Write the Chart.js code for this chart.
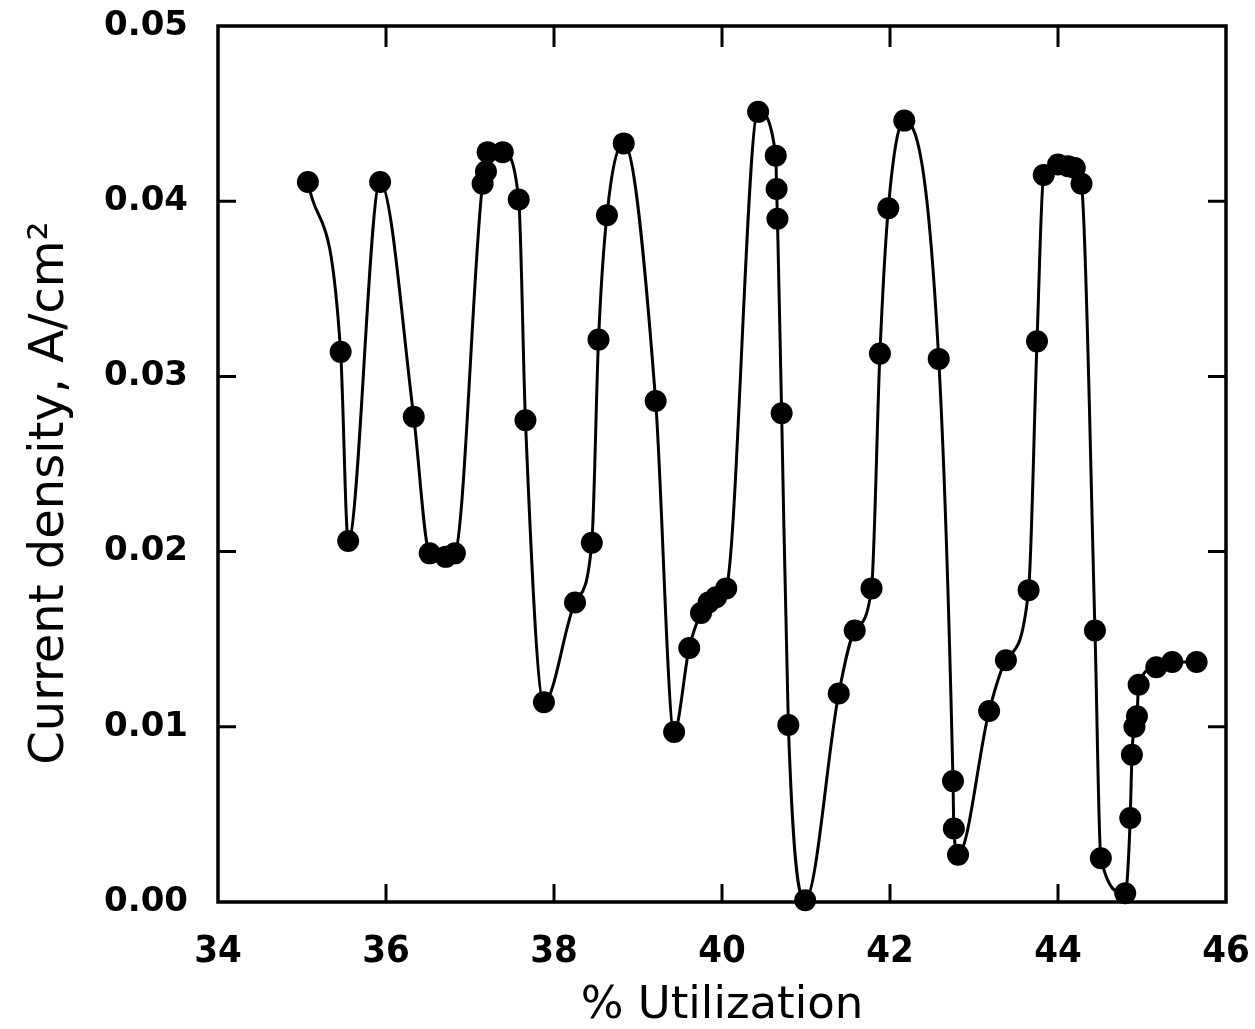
<!DOCTYPE html>
<html>
<head>
<meta charset="utf-8">
<script src="https://cdn.jsdelivr.net/npm/chart.js@4.4.1/dist/chart.umd.min.js"></script>
<style>
  html, body { margin: 0; padding: 0; background: #fff; }
  #wrap { width: 1255px; height: 1029px; }
</style>
</head>
<body>
<div id="wrap"><canvas id="chart"></canvas></div>
<script>
// % utilization vs. current density (A/cm^2)
const utilization = [
  35.07, 35.46, 35.55, 35.93, 36.33, 36.52, 36.71, 36.82,
  37.15, 37.19, 37.21, 37.39, 37.58, 37.66, 37.88, 38.25,
  38.45, 38.53, 38.63, 38.83, 39.21, 39.43, 39.61, 39.75,
  39.84, 39.93, 40.05, 40.43, 40.64, 40.65, 40.66, 40.71,
  40.79, 40.99, 41.39, 41.58, 41.78, 41.88, 41.98, 42.17,
  42.58, 42.75, 42.76, 42.81, 43.18, 43.38, 43.65, 43.75,
  43.83, 44.00, 44.12, 44.20, 44.28, 44.44, 44.51, 44.80,
  44.86, 44.88, 44.91, 44.94, 44.96, 45.17, 45.36, 45.65
];
const currentDensity = [
  0.0411, 0.0314, 0.0206, 0.0411, 0.0277, 0.0199, 0.0197, 0.0199,
  0.0410, 0.0417, 0.0428, 0.0428, 0.0401, 0.0275, 0.0114, 0.0171,
  0.0205, 0.0321, 0.0392, 0.0433, 0.0286, 0.0097, 0.0145, 0.0165,
  0.0171, 0.0174, 0.0179, 0.0451, 0.0426, 0.0407, 0.0390, 0.0279,
  0.0101, 0.0001, 0.0119, 0.0155, 0.0179, 0.0313, 0.0396, 0.0446,
  0.0310, 0.0069, 0.0042, 0.0027, 0.0109, 0.0138, 0.0178, 0.0320,
  0.0415, 0.0421, 0.0420, 0.0419, 0.0410, 0.0155, 0.0025, 0.0005,
  0.0048, 0.0084, 0.0100, 0.0106, 0.0124, 0.0134, 0.0137, 0.0137
];
const xTicks = [34, 36, 38, 40, 42, 44, 46];
const yTicks = [0, 0.01, 0.02, 0.03, 0.04, 0.05];
const yTitle = 'Current density, A/cm²';

const points = utilization.map((x, i) => ({ x: x, y: currentDensity[i] }));

// box around the plot with tick marks pointing inwards on every side,
// plus the y-axis label (sits a bit below the middle of the axis)
const framePlugin = {
  id: 'frame',
  beforeDatasetsDraw(chart) {
    const { ctx, chartArea: a, scales } = chart;
    const len = 18;
    ctx.save();
    ctx.strokeStyle = '#000';
    ctx.lineWidth = 3.5;
    ctx.strokeRect(a.left, a.top, a.right - a.left, a.bottom - a.top);
    ctx.lineWidth = 3;
    ctx.beginPath();
    xTicks.slice(1, -1).forEach(v => {
      const px = scales.x.getPixelForValue(v);
      ctx.moveTo(px, a.bottom); ctx.lineTo(px, a.bottom - len);
      ctx.moveTo(px, a.top); ctx.lineTo(px, a.top + len + 3);
    });
    yTicks.slice(1, -1).forEach(v => {
      const py = scales.y.getPixelForValue(v);
      ctx.moveTo(a.left, py); ctx.lineTo(a.left + len, py);
      ctx.moveTo(a.right, py); ctx.lineTo(a.right - len, py);
    });
    ctx.stroke();

    ctx.translate(63, (a.top + a.bottom) / 2 + 29);
    ctx.rotate(-Math.PI / 2);
    ctx.fillStyle = '#000';
    ctx.font = "48px 'DejaVu Sans', sans-serif";
    ctx.textAlign = 'center';
    ctx.textBaseline = 'alphabetic';
    ctx.fillText(yTitle, 0, 0);
    ctx.restore();
  }
};

const tickFont = { family: "'DejaVu Sans', sans-serif", weight: 'bold', size: 34 };

new Chart(document.getElementById('chart'), {
  type: 'scatter',
  data: {
    datasets: [{
      data: points,
      showLine: true,
      cubicInterpolationMode: 'monotone',
      borderColor: '#000',
      borderWidth: 3,
      pointRadius: 11,
      pointBackgroundColor: '#000',
      pointBorderWidth: 0,
      clip: false
    }]
  },
  options: {
    responsive: true,
    maintainAspectRatio: false,
    animation: false,
    layout: { padding: { top: 26, right: 29, left: 0, bottom: 0 } },
    plugins: {
      legend: { display: false },
      tooltip: { enabled: false }
    },
    scales: {
      x: {
        type: 'linear',
        min: 34,
        max: 46,
        afterBuildTicks: s => { s.ticks = xTicks.map(v => ({ value: v })); },
        afterFit: s => {
          s.height = 127;
          s.paddingLeft = 0;
          s.paddingRight = 0;
        },
        grid: { display: false },
        border: { display: false },
        ticks: {
          color: '#000',
          font: { family: "'DejaVu Sans Condensed', 'DejaVu Sans', sans-serif", weight: 'bold', size: 38 },
          padding: 19,
          maxRotation: 0,
          autoSkip: false
        },
        title: {
          display: true,
          text: '% Utilization',
          color: '#000',
          font: { family: "'DejaVu Sans', sans-serif", size: 45, lineHeight: 1 },
          padding: { top: 0, bottom: 0 }
        }
      },
      y: {
        min: 0,
        max: 0.05,
        afterBuildTicks: s => { s.ticks = yTicks.map(v => ({ value: v })); },
        afterFit: s => {
          s.width = 218;
          s.paddingTop = 0;
          s.paddingBottom = 0;
        },
        grid: { display: false },
        border: { display: false },
        ticks: {
          color: '#000',
          font: tickFont,
          padding: 22,
          autoSkip: false,
          callback: v => v.toFixed(2)
        }
      }
    }
  },
  plugins: [framePlugin]
});
</script>
</body>
</html>
